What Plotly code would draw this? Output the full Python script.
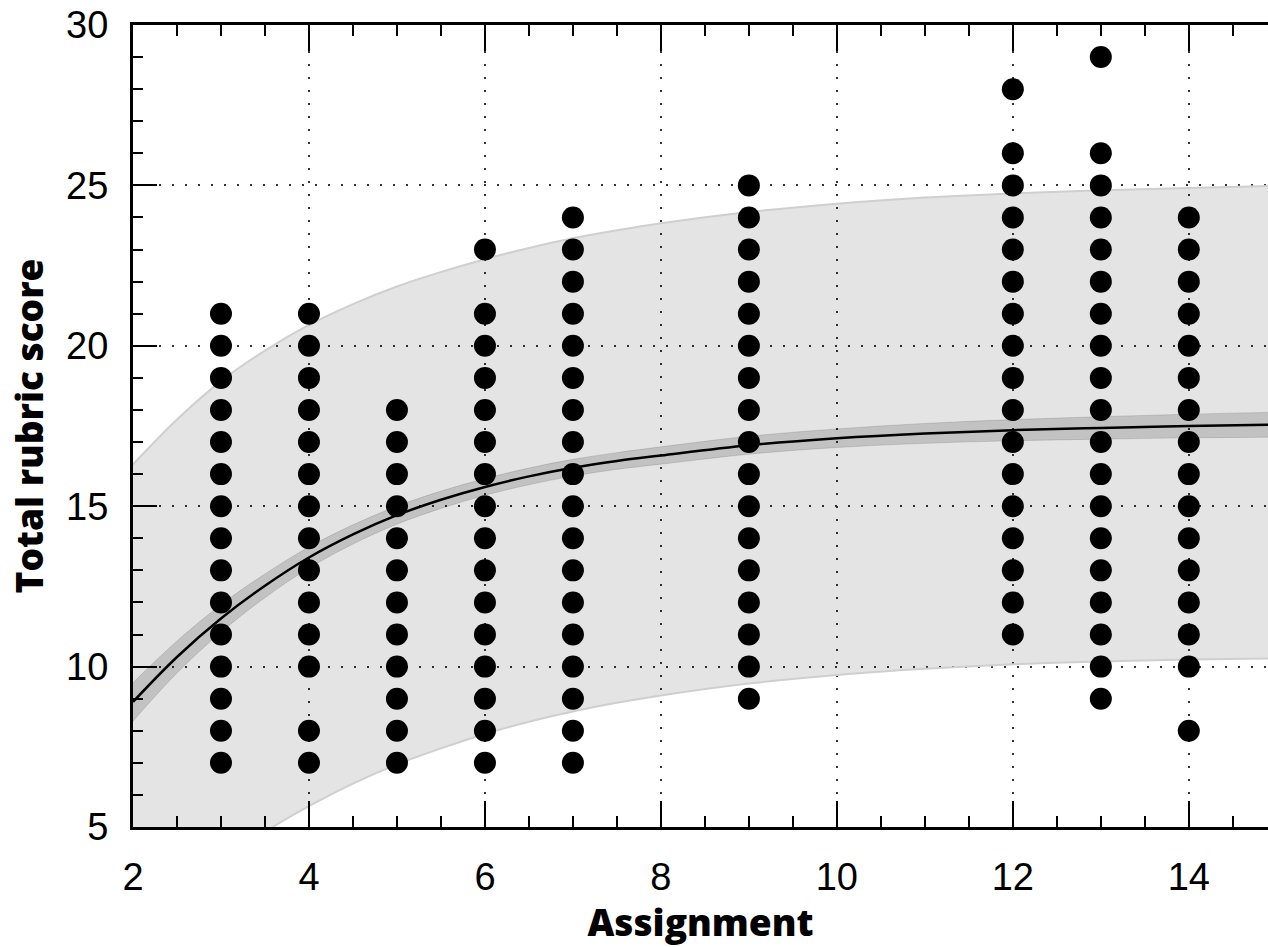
import plotly.graph_objects as go

# ---- observed scores per assignment ----
assign_3 = list(range(7, 22))
assign_4 = [7, 8] + list(range(10, 22))
assign_5 = list(range(7, 19))
assign_6 = list(range(7, 22)) + [23]
assign_7 = list(range(7, 25))
assign_9 = list(range(9, 26))
assign_12 = list(range(11, 27)) + [28]
assign_13 = list(range(9, 27)) + [29]
assign_14 = [8] + list(range(10, 25))

scores = {3: assign_3, 4: assign_4, 5: assign_5, 6: assign_6, 7: assign_7,
          9: assign_9, 12: assign_12, 13: assign_13, 14: assign_14}

# ---- fitted curve and bands ----
fit_x = [2, 2.5, 3, 3.5, 4, 4.5, 5, 5.5, 6, 6.5, 7, 7.5, 8, 9, 10, 11, 12, 13, 14, 15]
fit_y = [8.9, 10.3, 11.5, 12.52, 13.4, 14.12, 14.72, 15.2, 15.6, 15.93, 16.2, 16.41, 16.58,
         16.9, 17.12, 17.27, 17.37, 17.44, 17.5, 17.54]
conf_half = [0.6, 0.5, 0.43, 0.37, 0.33, 0.3, 0.28, 0.27, 0.26, 0.26, 0.26, 0.26, 0.27,
             0.28, 0.29, 0.31, 0.33, 0.35, 0.37, 0.39]
pred_upper = [16.3, 17.7, 18.9, 19.85, 20.65, 21.3, 21.85, 22.3, 22.7, 23.05, 23.35, 23.6, 23.82,
              24.17, 24.43, 24.62, 24.75, 24.85, 24.92, 24.99]
pred_lower = [1.4, 2.75, 3.9, 4.85, 5.65, 6.35, 6.95, 7.45, 7.9, 8.28, 8.6, 8.87, 9.1,
              9.47, 9.74, 9.93, 10.07, 10.16, 10.22, 10.26]

x_ticks = [2, 4, 6, 8, 10, 12, 14]
y_ticks = [5, 10, 15, 20, 25, 30]

fig = go.Figure()

# prediction band
fig.add_trace(go.Scatter(x=fit_x, y=pred_upper, mode="lines", line=dict(color="#cfcfcf", width=2, shape="spline", smoothing=1.0),
                         hoverinfo="skip", showlegend=False))
fig.add_trace(go.Scatter(x=fit_x, y=pred_lower, mode="lines", line=dict(color="#cfcfcf", width=2, shape="spline", smoothing=1.0),
                         fill="tonexty", fillcolor="rgba(0,0,0,0.105)", hoverinfo="skip", showlegend=False))

# confidence band
conf_up = [y + h for y, h in zip(fit_y, conf_half)]
conf_lo = [y - h for y, h in zip(fit_y, conf_half)]
fig.add_trace(go.Scatter(x=fit_x, y=conf_up, mode="lines", line=dict(color="rgba(0,0,0,0.12)", width=1, shape="spline"),
                         hoverinfo="skip", showlegend=False))
fig.add_trace(go.Scatter(x=fit_x, y=conf_lo, mode="lines", line=dict(color="rgba(0,0,0,0.12)", width=1, shape="spline"),
                         fill="tonexty", fillcolor="rgba(0,0,0,0.15)", hoverinfo="skip", showlegend=False))

# fitted curve
fig.add_trace(go.Scatter(x=fit_x, y=fit_y, mode="lines", line=dict(color="black", width=2.5, shape="spline"),
                         showlegend=False))

# points
px, py = [], []
for a, vals in scores.items():
    px += [a] * len(vals)
    py += vals
fig.add_trace(go.Scatter(x=px, y=py, mode="markers", marker=dict(color="black", size=22, line=dict(width=0)),
                         showlegend=False))

tickfont = dict(family="Liberation Sans, Arial, sans-serif", size=38, color="black")
titlefont = dict(family="Open Sans, sans-serif", size=37, color="black", weight=800)

fig.update_xaxes(range=[2, 14.9], tickvals=x_ticks, ticks="inside", ticklen=26, tickwidth=2, tickcolor="black",
                 showline=True, linecolor="black", linewidth=3, mirror="ticks", automargin=False,
                 showgrid=True, gridcolor="#333333", gridwidth=2, griddash="2px,11px",
                 zeroline=False, tickfont=tickfont, ticklabelstandoff=14,
                 minor=dict(dtick=0.5, ticks="inside", ticklen=11, tickwidth=2, tickcolor="black", showgrid=False),
                 title=dict(text="Assignment", font=titlefont, standoff=28))
fig.update_yaxes(range=[5, 30], tickvals=y_ticks, ticks="inside", ticklen=24, tickwidth=2, tickcolor="black",
                 showline=True, linecolor="black", linewidth=3, mirror=False, automargin=False,
                 showgrid=True, gridcolor="#333333", gridwidth=2, griddash="2px,11px",
                 zeroline=False, tickfont=tickfont, ticklabelstandoff=14,
                 minor=dict(dtick=1, ticks="inside", ticklen=10, tickwidth=2, tickcolor="black", showgrid=False),
                 title=dict(text="Total rubric score", font=titlefont, standoff=12))

fig.update_layout(width=1268, height=947, margin=dict(l=133, r=0, t=25, b=120),
                  plot_bgcolor="white", paper_bgcolor="white", showlegend=False)

fig.write_html("out.html")
